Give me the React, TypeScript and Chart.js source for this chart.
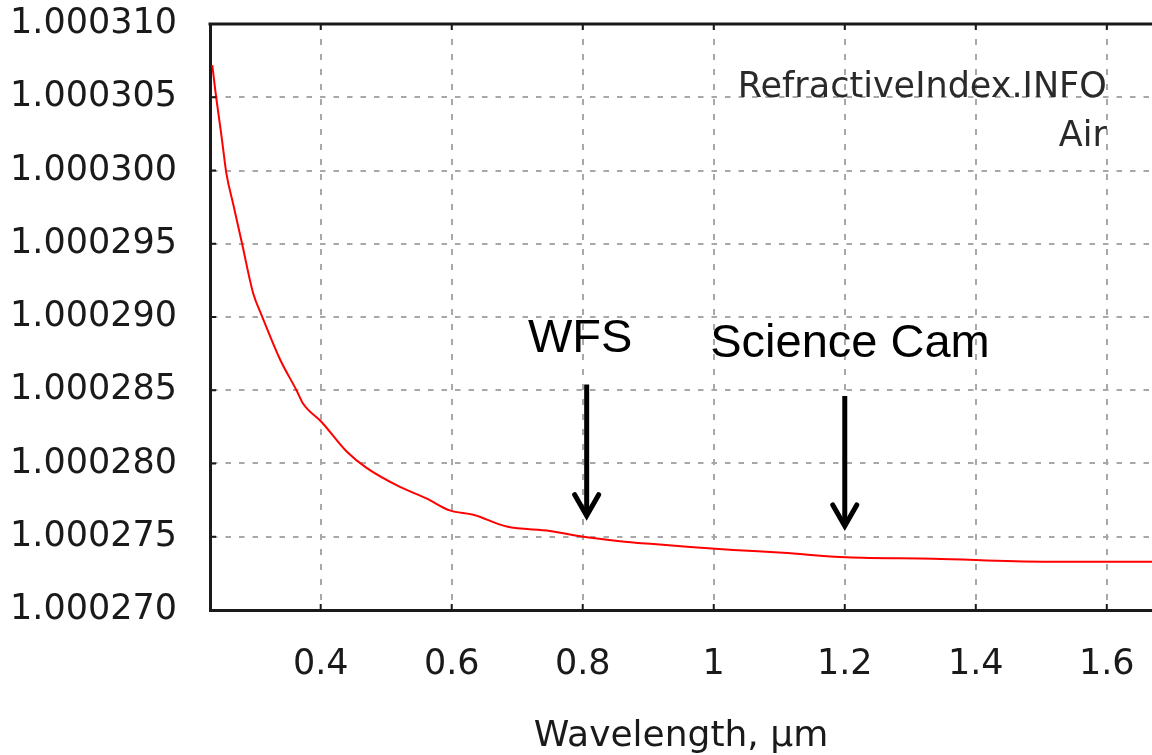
import React, { useEffect, useRef } from 'react';
import { Chart, registerables } from 'chart.js';

Chart.register(...registerables);

// Wavelength in µm
const WAVELENGTH_UM = [
  0.2345, 0.239, 0.249, 0.256, 0.267, 0.28, 0.297, 0.31, 0.338, 0.363, 0.373,
  0.402, 0.44, 0.47, 0.521, 0.562, 0.597, 0.633, 0.684, 0.75, 0.801, 0.857,
  0.908, 0.964, 1.03, 1.106, 1.203, 1.335, 1.503, 1.669,
];
// Refractive index of air
const REFRACTIVE_INDEX = [
  1.0003072, 1.0003055, 1.0003022, 1.0002998, 1.0002976, 1.000295, 1.0002916,
  1.0002901, 1.0002871, 1.000285, 1.0002841, 1.0002828, 1.0002808, 1.0002797,
  1.0002784, 1.0002776, 1.0002768, 1.0002765, 1.0002757, 1.0002754, 1.000275,
  1.0002747, 1.0002745, 1.0002743, 1.0002741, 1.0002739, 1.0002736, 1.0002735,
  1.0002733, 1.0002733,
];

const X_TICKS = [0.4, 0.6, 0.8, 1, 1.2, 1.4, 1.6];
const Y_TICKS = [
  1.00027, 1.000275, 1.00028, 1.000285, 1.00029, 1.000295, 1.0003, 1.000305, 1.00031,
];
const X_MIN = 0.231;
const X_MAX = 1.669;
const Y_MIN = 1.00027;
const Y_MAX = 1.00031;
const X_TITLE = 'Wavelength, µm';

const WATERMARK_LINES = ['RefractiveIndex.INFO', 'Air'];
const WATERMARK_X = 1.6;
const WATERMARK_Y = [1.000305, 1.0003017];

const CALLOUT_TEXTS = ['WFS', 'Science Cam'];
const CALLOUT_X = [0.796, 1.208];
const CALLOUT_Y = [1.0002876, 1.0002873];

const ARROW_X = [0.806, 1.2];
const ARROW_FROM = [1.0002854, 1.0002846];
const ARROW_TO = [1.0002763, 1.0002756];

const INK = '#1a1a1a';
const GRID = '#a8a8a8';
const TICK_FONT = { family: '"DejaVu Sans"', size: 35, lineHeight: 1.2 };

const overlayPlugin = {
  id: 'overlay',
  afterDraw(chart: any) {
    const { ctx, chartArea: a, scales } = chart;
    const xs = scales.x;
    const ys = scales.y;
    const line = (x1: number, y1: number, x2: number, y2: number) => {
      ctx.beginPath();
      ctx.moveTo(x1, y1);
      ctx.lineTo(x2, y2);
      ctx.stroke();
    };
    ctx.save();
    // inward tick marks
    ctx.strokeStyle = INK;
    ctx.lineWidth = 2;
    X_TICKS.forEach((v) => {
      const px = xs.getPixelForValue(v);
      line(px, a.bottom, px, a.bottom - 6);
      line(px, a.top, px, a.top + 6);
    });
    Y_TICKS.forEach((v) => {
      const py = ys.getPixelForValue(v);
      line(a.left, py, a.left + 6, py);
    });
    // top frame line
    ctx.lineWidth = 3;
    line(a.left - 1.5, a.top, a.right, a.top);

    // watermark
    ctx.fillStyle = '#2a2a2a';
    ctx.font = '35px "DejaVu Sans"';
    ctx.textAlign = 'right';
    ctx.textBaseline = 'alphabetic';
    WATERMARK_LINES.forEach((t, i) => {
      ctx.fillText(t, xs.getPixelForValue(WATERMARK_X), ys.getPixelForValue(WATERMARK_Y[i]));
    });

    // callout labels
    ctx.fillStyle = '#000';
    ctx.font = '47px "Liberation Sans"';
    ctx.textAlign = 'center';
    CALLOUT_TEXTS.forEach((t, i) => {
      ctx.fillText(t, xs.getPixelForValue(CALLOUT_X[i]), ys.getPixelForValue(CALLOUT_Y[i]));
    });

    // arrows
    ctx.strokeStyle = '#000';
    ctx.lineWidth = 5;
    ctx.lineJoin = 'miter';
    ARROW_X.forEach((v, i) => {
      const px = xs.getPixelForValue(v);
      const y1 = ys.getPixelForValue(ARROW_FROM[i]);
      const y2 = ys.getPixelForValue(ARROW_TO[i]);
      ctx.lineCap = 'butt';
      line(px, y1, px, y2 - 3);
      ctx.lineCap = 'round';
      ctx.beginPath();
      ctx.moveTo(px - 12, y2 - 23);
      ctx.lineTo(px, y2 - 2);
      ctx.lineTo(px + 12, y2 - 23);
      ctx.stroke();
    });
    ctx.restore();
  },
};

export default function App() {
  const canvasRef = useRef<HTMLCanvasElement | null>(null);

  useEffect(() => {
    if (!canvasRef.current) return;
    const points = WAVELENGTH_UM.map((x, i) => ({ x, y: REFRACTIVE_INDEX[i] }));
    const chart = new Chart(canvasRef.current, {
      type: 'line',
      data: {
        datasets: [
          {
            data: points,
            borderColor: '#ff0000',
            borderWidth: 2,
            pointRadius: 0,
            fill: false,
            cubicInterpolationMode: 'monotone',
          },
        ],
      },
      options: {
        animation: false,
        responsive: false,
        events: [],
        layout: { padding: { left: 10, top: 24, right: 0, bottom: 0 } },
        plugins: {
          legend: { display: false },
          tooltip: { enabled: false },
        },
        scales: {
          x: {
            type: 'linear',
            min: X_MIN,
            max: X_MAX,
            afterBuildTicks: (s: any) => {
              s.ticks = X_TICKS.map((value) => ({ value }));
            },
            afterFit: (s: any) => {
              s.height = 145;
              s.paddingLeft = 0;
              s.paddingRight = 0;
            },
            ticks: {
              color: INK,
              font: TICK_FONT,
              padding: 34,
              maxRotation: 0,
              autoSkip: false,
              callback: (v: any) => String(Number(v)),
            },
            grid: { color: GRID, lineWidth: 2, drawTicks: false },
            border: { display: true, color: INK, width: 3, dash: [6, 9] },
            title: {
              display: true,
              text: X_TITLE,
              color: INK,
              font: { family: '"DejaVu Sans"', size: 36, lineHeight: 1 },
              padding: { top: 26, bottom: 0 },
            },
          },
          y: {
            type: 'linear',
            min: Y_MIN,
            max: Y_MAX,
            afterBuildTicks: (s: any) => {
              s.ticks = Y_TICKS.map((value) => ({ value }));
            },
            afterFit: (s: any) => {
              s.width = 200;
              s.paddingTop = 0;
              s.paddingBottom = 0;
            },
            ticks: {
              color: INK,
              font: TICK_FONT,
              padding: 33,
              autoSkip: false,
              callback: (v: any) => Number(v).toFixed(6),
            },
            grid: { color: GRID, lineWidth: 2, drawTicks: false },
            border: { display: true, color: INK, width: 3, dash: [5.5, 8] },
          },
        },
      },
      plugins: [overlayPlugin],
    } as any);
    return () => chart.destroy();
  }, []);

  return (
    <div style={{ position: 'absolute', left: 0, top: 0, width: 1152, height: 755, background: '#fff' }}>
      <canvas ref={canvasRef} width={1152} height={755} />
    </div>
  );
}
